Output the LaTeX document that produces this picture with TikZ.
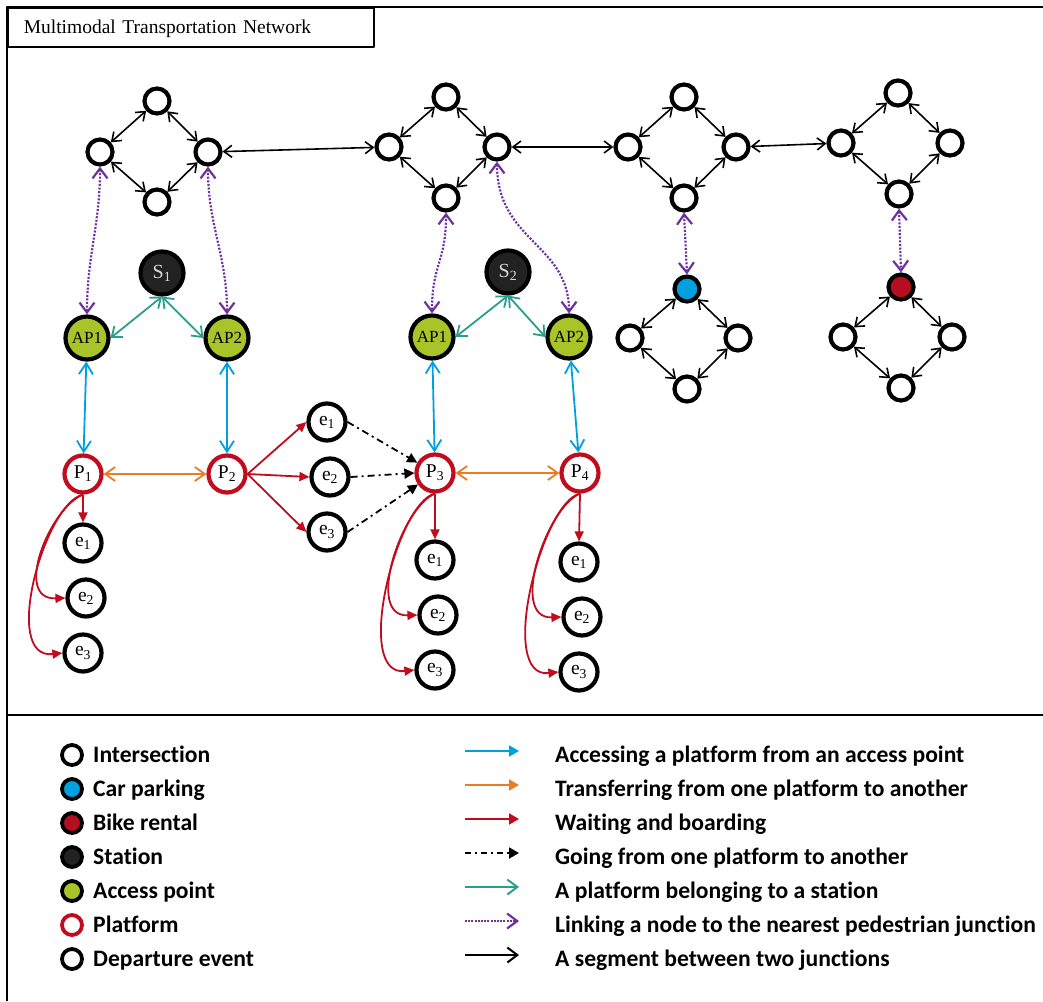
\documentclass[tikz,border=0pt]{standalone}
\usepackage{fontspec}
\setmainfont{Liberation Serif}
\newfontfamily\keyfont[Ligatures=NoCommon]{Carlito}
\usetikzlibrary{arrows.meta}

\definecolor{accblue}{RGB}{0,160,222}
\definecolor{trforange}{RGB}{234,125,35}
\definecolor{waitred}{RGB}{192,12,30}
\definecolor{bikered}{RGB}{180,14,32}
\definecolor{belteal}{RGB}{42,158,138}
\definecolor{linkpurple}{RGB}{112,48,160}
\definecolor{apgreen}{RGB}{168,196,40}
\definecolor{stadark}{RGB}{34,34,34}

\tikzset{
  % node kinds
  junc/.style={circle,draw,line width=4.2pt,fill=white,minimum size=25pt,inner sep=0pt},
  park/.style={junc,fill=accblue},
  bike/.style={junc,fill=bikered},
  station/.style={circle,draw,line width=4.2pt,fill=stadark,minimum size=43pt,inner sep=0pt,
    text=white!85!black,font=\fontsize{20}{20}\selectfont},
  apoint/.style={circle,draw,line width=4.2pt,fill=apgreen,minimum size=43pt,inner sep=0pt,
    font=\fontsize{17}{17}\selectfont},
  platform/.style={circle,draw=waitred,line width=4.2pt,fill=white,minimum size=37pt,inner sep=0pt,
    font=\fontsize{19.5}{19.5}\selectfont},
  event/.style={circle,draw,line width=4.2pt,fill=white,minimum size=37pt,inner sep=0pt,
    font=\fontsize{19.5}{19.5}\selectfont},
  % connectors
  jseg/.style={line width=1.6pt,>={Straight Barb[length=8pt,width=12pt]},<->},
  link/.style={draw=linkpurple,line width=2.2pt,dash pattern=on 2pt off 1.6pt,
    >={Straight Barb[length=10pt,width=15pt]},<->},
  belong/.style={draw=belteal,line width=1.8pt,>={Straight Barb[length=9pt,width=14pt]},<->},
  access/.style={draw=accblue,line width=1.8pt,>={Straight Barb[length=11pt,width=14pt]},<->},
  transfer/.style={draw=trforange,line width=1.8pt,>={Straight Barb[length=10pt,width=14pt]},<->},
  wait/.style={draw=waitred,line width=1.8pt,>={Triangle[length=10pt,width=9pt]},->},
  goto/.style={line width=1.8pt,dash pattern=on 7pt off 4pt on 2pt off 4pt,
    >={Triangle[length=10pt,width=10pt]},->},
  % legend
  keysym/.style={minimum size=20pt,line width=3.8pt},
  keytext/.style={anchor=base west,inner sep=0pt,font=\keyfont\bfseries\fontsize{23.6}{23.6}\selectfont},
  keyacc/.style={draw=accblue,line width=2pt,-{Triangle[length=10pt,width=11pt]}},
  keytrf/.style={draw=trforange,line width=2pt,-{Triangle[length=10pt,width=11pt]}},
  keywait/.style={draw=waitred,line width=2pt,-{Triangle[length=10pt,width=11pt]}},
  keygo/.style={line width=2pt,dash pattern=on 6pt off 4pt on 2pt off 4pt,-{Triangle[length=10pt,width=11pt]}},
  keybel/.style={draw=belteal,line width=2pt,-{Straight Barb[length=10pt,width=15pt]}},
  keylink/.style={draw=linkpurple,line width=2.2pt,dash pattern=on 2pt off 1.2pt,
    -{Straight Barb[length=10pt,width=15pt]}},
  keyseg/.style={line width=2pt,-{Straight Barb[length=10pt,width=15pt]}},
  titlebox/.style={draw,line width=1.6pt,minimum height=39pt,text width=334pt,inner xsep=16pt,
    text height=13pt,text depth=0pt,align=left,font=\fontsize{19.5}{20}\selectfont}
}

\begin{document}
\begin{tikzpicture}[x=1pt,y=-1pt,line join=round]
  \useasboundingbox (0,0) rectangle (1043,1001);
  % frame and legend divider
  \draw[line width=2pt] (1043,7) -- (7,7) -- (7,1001) (7,715) -- (1043,715);
  \node[titlebox,anchor=north west] (title) at (7,7) {Multimodal Transportation Network};

  % pedestrian junctions, four on top and two below
  \foreach \d/\s/\tx/\ty/\lx/\ly/\rx/\ry/\bx/\by in {
      1/junc/157/101/100/152/208/152/157/202,
      2/junc/446/97/389/147/497/147/446/198,
      3/junc/684/97/628/147/736/147/684/198,
      4/junc/898/93/841/143/950/143/899/194,
      5/park/687/289/630/338/738/338/687/389,
      6/bike/901/287/843/337/952/337/901/388}{
    \node[\s] (t\d) at (\tx,\ty) {};
    \node[junc] (l\d) at (\lx,\ly) {};
    \node[junc] (r\d) at (\rx,\ry) {};
    \node[junc] (b\d) at (\bx,\by) {};
    \draw[jseg] (t\d) -- (l\d);
    \draw[jseg] (t\d) -- (r\d);
    \draw[jseg] (l\d) -- (b\d);
    \draw[jseg] (r\d) -- (b\d);
  }
  \draw[jseg] (r1) -- (l2);
  \draw[jseg] (r2) -- (l3);
  \draw[jseg] (r3) -- (l4);

  % stations, access points, platforms
  \node[station] (s1) at (162,273) {S\textsubscript{1}};
  \node[station] (s2) at (508,272) {S\textsubscript{2}};
  \foreach \n/\x/\y/\t in {1/87/338/AP1, 2/227/338/AP2, 3/432/337/AP1, 4/569/337/AP2}{
    \node[apoint] (a\n) at (\x,\y) {\t};
  }
  \foreach \n/\x/\y in {1/83/474, 2/227/474, 3/435/473, 4/580/473}{
    \node[platform] (p\n) at (\x,\y) {P\textsubscript{\n}};
    \draw[access] (a\n) -- (p\n);
  }

  % departure events
  \foreach \n/\x/\y in {1/327/422, 2/330/477, 3/327/532}{
    \node[event] (f\n) at (\x,\y) {e\textsubscript{\n}};
  }
  \foreach \p/\x/\y in {1/83/543, 3/435/560, 4/579/562}{
    \node[event] (e\p1) at (\x,\y) {e\textsubscript{1}};
    \node[event] (e\p2) at (\x+3,\y+55) {e\textsubscript{2}};
    \node[event] (e\p3) at (\x,\y+110) {e\textsubscript{3}};
    \draw[wait] (p\p.south) -- (e\p1.north);
    \draw[wait] (p\p.south) .. controls +(-33,13) and +(-53,2) .. (e\p2.west);
    \draw[wait] (p\p.south) .. controls +(-38,8) and +(-62,7) .. (e\p3.west);
  }

  \draw[belong] (s1.south) -- (a1.east);
  \draw[belong] (s1.south) -- (a2.west);
  \draw[belong] (s2.south) -- (a3.east);
  \draw[belong] (s2.south) -- (a4.west);

  \draw[transfer] (p1) -- (p2);
  \draw[transfer] (p3) -- (p4);

  \foreach \n in {1,2,3}{
    \draw[wait] (p2.east) -- (f\n.west);
  }
  \draw[goto] (f1.east) -- (p3);
  \draw[goto] (f2.east) -- (p3.west);
  \draw[goto] (f3.east) -- (p3);

  % links to the nearest junction
  \draw[link] (l1.south) .. controls +(0,60) and +(0,-60) .. (a1.north);
  \draw[link] (r1.south) .. controls +(0,60) and +(0,-60) .. (a2.north);
  \draw[link] (b2.south) .. controls +(0,50) and +(0,-50) .. (a3.north);
  \draw[link] (r2.south) .. controls +(0,80) and +(0,-70) .. (a4.north);
  \draw[link] (b3.south) -- (t5.north);
  \draw[link] (b4.south) -- (t6.north);

  % legend
  \foreach \s/\t [count=\i] in {junc/Intersection, park/Car parking, bike/Bike rental,
      station/Station, apoint/Access point, platform/Platform, event/Departure event}{
    \node[\s,keysym] (k\i) at (72,{755+34*(\i-1)}) {};
    \node[keytext] (kt\i) at (93,{762+34*(\i-1)}) {\t};
  }
  \foreach \s/\t [count=\i] in {keyacc/Accessing a platform from an access point,
      keytrf/Transferring from one platform to another,
      keywait/Waiting and boarding,
      keygo/Going from one platform to another,
      keybel/A platform belonging to a station,
      keylink/Linking a node to the nearest pedestrian junction,
      keyseg/A segment between two junctions}{
    \coordinate (ka\i) at (465,{751+34*(\i-1)});
    \coordinate (kb\i) at (519,{751+34*(\i-1)});
    \draw[\s] (ka\i) -- (kb\i);
    \node[keytext] (ma\i) at (555,{762+34*(\i-1)}) {\t};
  }
\end{tikzpicture}
\end{document}
